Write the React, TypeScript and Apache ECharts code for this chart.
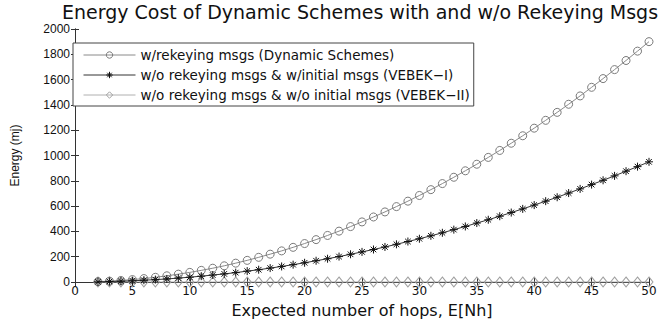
import React, { useEffect, useRef } from "react";
import * as echarts from "echarts";

const hops = [2,3,4,5,6,7,8,9,10,11,12,13,14,15,16,17,18,19,20,21,22,23,24,25,26,27,28,29,30,31,32,33,34,35,36,37,38,39,40,41,42,43,44,45,46,47,48,49,50];
const withRekeying = [3,7,12,19,27,37,49,62,76,92,109,128,149,171,195,220,246,274,304,335,368,402,438,475,514,554,596,639,684,730,778,828,879,931,985,1040,1097,1156,1216,1278,1341,1405,1471,1539,1608,1679,1751,1825,1900];
const vebek1 = [1.5,3.4,6,9.5,14,19,24,31,38,46,55,64,74,86,97,110,123,137,152,168,184,201,219,238,257,277,298,320,342,365,389,414,439,466,492,520,549,578,608,639,670,703,736,770,804,839,876,912,950];
const vebek2 = [0,0,0,0,0,0,0,0,0,0,0,0,0,0,0,0,0,0,0,0,0,0,0,0,0,0,0,0,0,0,0,0,0,0,0,0,0,0,0,0,0,0,0,0,0,0,0,0,0];
const seriesNames = [
  "w/rekeying msgs (Dynamic Schemes)",
  "w/o rekeying msgs & w/initial msgs (VEBEK\u2212I)",
  "w/o rekeying msgs & w/o initial msgs (VEBEK\u2212II)",
];
const titleText = "Energy Cost of Dynamic Schemes with and w/o Rekeying Msgs";
const xTitle = "Expected number of hops, E[Nh]";
const yTitle = "Energy (mj)";

const FONT = "Liberation Sans, Arial, sans-serif";
const WIDE = "DejaVu Sans, Verdana, sans-serif";
const NARROW = "Liberation Sans Narrow, Arial Narrow, Liberation Sans, sans-serif";
const ASTERISK = "path://M0,-5L0,5M-5,0L5,0M-3.5,-3.5L3.5,3.5M-3.5,3.5L3.5,-3.5";

const lineColors = ["#8a8a8a", "#333333", "#b0b0b0"];
const markColors = ["#7a7a7a", "#111111", "#a0a0a0"];
const markers = ["circle", ASTERISK, "diamond"];

export default function App() {
  const ref = useRef<HTMLDivElement>(null);
  useEffect(() => {
    if (!ref.current) return;
    const chart = echarts.init(ref.current, undefined, { renderer: "svg" });
    const pair = (vals: number[]) => hops.map((h, i) => [h, vals[i]]);
    const axisCommon = {
      axisLine: { show: true, lineStyle: { color: "#333", width: 1 } },
      axisTick: { show: true, inside: true, length: 4, lineStyle: { color: "#333" } },
      splitLine: { show: false },
    };
    const allSeries = [withRekeying, vebek1, vebek2];
    chart.setOption({
      animation: false,
      backgroundColor: "#fff",
      title: {
        text: titleText,
        left: 360,
        textAlign: "center",
        top: 2,
        padding: 0,
        textStyle: { fontFamily: WIDE, fontSize: 19, lineHeight: 19, fontWeight: "normal", color: "#111" },
      },
      legend: {
        left: 73,
        top: 43,
        orient: "vertical",
        itemWidth: 52,
        itemHeight: 8,
        itemGap: 6,
        padding: [5, 4, 4, 10],
        borderColor: "#444",
        borderWidth: 1,
        backgroundColor: "#fff",
        textStyle: { fontFamily: WIDE, fontSize: 13.5, color: "#111" },
        data: seriesNames.map((n, i) => ({
          name: n,
          itemStyle: { color: "transparent", borderColor: markColors[i], borderWidth: 1 },
          lineStyle: { color: lineColors[i], width: 1 },
        })),
      },
      grid: { left: 75, right: 16, top: 29, bottom: 28, containLabel: false },
      xAxis: [
        {
          type: "value",
          min: 0,
          max: 50,
          interval: 5,
          ...axisCommon,
          axisLabel: { fontFamily: WIDE, fontSize: 12, color: "#111", margin: 3 },
          name: xTitle,
          nameLocation: "middle",
          nameGap: 20,
          nameTextStyle: { fontFamily: WIDE, fontSize: 16, lineHeight: 16, color: "#111" },
        },
        {
          type: "value",
          position: "top",
          min: 0,
          max: 50,
          interval: 5,
          ...axisCommon,
          axisLabel: { show: false },
        },
      ],
      yAxis: [
        {
          type: "value",
          min: 0,
          max: 2000,
          interval: 200,
          ...axisCommon,
          axisLabel: {
            fontFamily: FONT,
            fontSize: 12,
            color: "#111",
            margin: 5,
            formatter: (v: number) => String(v),
          },
          name: yTitle,
          nameLocation: "middle",
          nameGap: 54,
          nameTextStyle: { fontFamily: NARROW, fontSize: 12, color: "#111" },
        },
        {
          type: "value",
          position: "right",
          min: 0,
          max: 2000,
          interval: 200,
          ...axisCommon,
          axisLabel: { show: false },
        },
      ],
      series: allSeries.map((vals, i) => ({
        name: seriesNames[i],
        type: "line",
        data: pair(vals),
        symbol: markers[i],
        symbolSize: i === 2 ? [8, 10] : 8,
        showAllSymbol: true,
        lineStyle: { color: lineColors[i], width: 1 },
        itemStyle: { color: "transparent", borderColor: markColors[i], borderWidth: 1 },
        z: [3, 4, 2][i],
      })),
    });
    return () => chart.dispose();
  }, []);
  return <div ref={ref} style={{ width: 665, height: 323, position: "absolute", left: 0, top: 0 }} />;
}
